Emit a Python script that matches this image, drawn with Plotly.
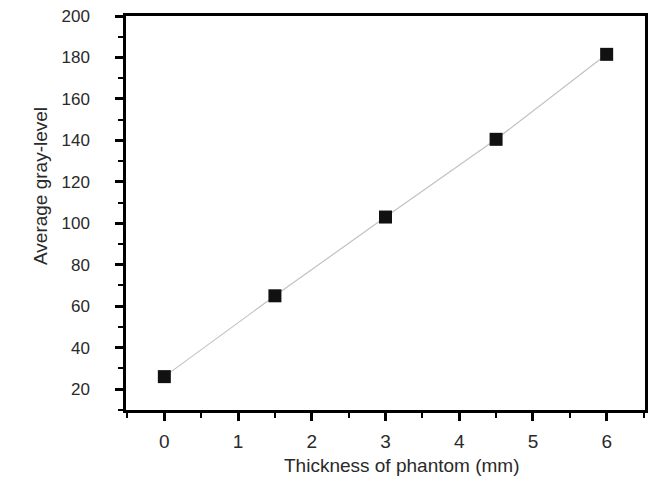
import plotly.graph_objects as go

thickness = [0, 1.5, 3, 4.5, 6]
gray_level = [26, 65, 103, 140.5, 181.5]

x_ticks = [0, 1, 2, 3, 4, 5, 6]
y_ticks = [20, 40, 60, 80, 100, 120, 140, 160, 180, 200]

x_title = "Thickness of phantom (mm)"
y_title = "Average gray-level"

font_family = "Liberation Sans, Arial, sans-serif"
text_color = "#2a2a2a"

fig = go.Figure()
fig.add_trace(go.Scatter(
    x=thickness, y=gray_level, mode="lines+markers",
    line=dict(color="#c2c2c2", width=1.2),
    marker=dict(symbol="square", size=13, color="#111111"),
    showlegend=False,
))

axis_common = dict(
    showgrid=False, zeroline=False, automargin=False,
    showline=True, linecolor="black", linewidth=2.5, mirror=True,
    ticks="outside", ticklen=8, tickwidth=2.5, tickcolor="black",
)

fig.update_xaxes(
    range=[-0.52, 6.52], tickvals=x_ticks,
    minor=dict(ticks="outside", ticklen=5, tickwidth=2, tickcolor="black", dtick=0.5, tick0=0),
    tickfont=dict(family=font_family, size=19, color=text_color),
    ticklabelstandoff=4,
    **axis_common,
)
fig.update_yaxes(
    range=[9.9, 200], tickvals=y_ticks,
    minor=dict(ticks="outside", ticklen=5, tickwidth=2, tickcolor="black", dtick=10, tick0=0),
    tickfont=dict(family=font_family, size=17, color=text_color),
    ticklabelstandoff=22,
    **axis_common,
)

fig.add_annotation(
    text=x_title, xref="paper", yref="paper", x=0.53, y=-0.142,
    xanchor="center", yanchor="middle", showarrow=False,
    font=dict(family=font_family, size=19, color=text_color),
)
fig.add_annotation(
    text=y_title, xref="paper", yref="paper", x=-0.1657, y=0.5685,
    xanchor="center", yanchor="middle", showarrow=False, textangle=-90,
    font=dict(family=font_family, size=19, color=text_color),
)

fig.update_layout(
    width=654, height=478,
    margin=dict(l=126, r=9, t=16, b=68),
    plot_bgcolor="white", paper_bgcolor="white",
)

# remove the default 8px page margin so the figure sits at the window's corner
fig.write_html(
    "out.html",
    config={"displayModeBar": False},
    post_script="document.body.style.margin='0';",
)
